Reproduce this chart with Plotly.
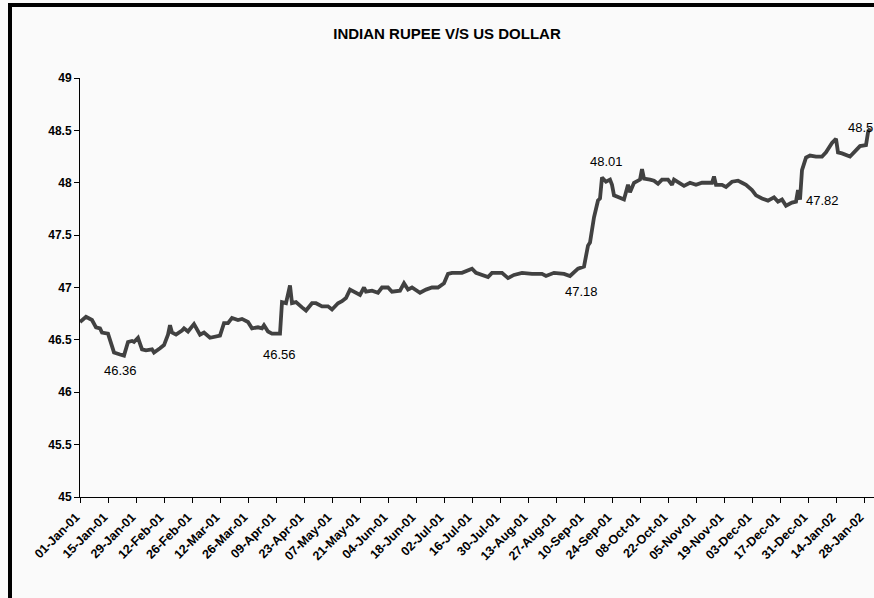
import plotly.graph_objects as go

dates = [
    "2001-01-01", "2001-01-04", "2001-01-07", "2001-01-09", "2001-01-11", "2001-01-12",
    "2001-01-15", "2001-01-17", "2001-01-18", "2001-01-21", "2001-01-23", "2001-01-25",
    "2001-01-27", "2001-01-28", "2001-01-30", "2001-02-01", "2001-02-03", "2001-02-06",
    "2001-02-07", "2001-02-10", "2001-02-12", "2001-02-14", "2001-02-15", "2001-02-16",
    "2001-02-18", "2001-02-21", "2001-02-22", "2001-02-24", "2001-02-27", "2001-03-02",
    "2001-03-04", "2001-03-07", "2001-03-09", "2001-03-12", "2001-03-14", "2001-03-16",
    "2001-03-18", "2001-03-21", "2001-03-23", "2001-03-26", "2001-03-28", "2001-03-31",
    "2001-04-02", "2001-04-03", "2001-04-05", "2001-04-07", "2001-04-11", "2001-04-12",
    "2001-04-14", "2001-04-16", "2001-04-17", "2001-04-19", "2001-04-22", "2001-04-24",
    "2001-04-27", "2001-04-29", "2001-05-02", "2001-05-05", "2001-05-07", "2001-05-10",
    "2001-05-12", "2001-05-14", "2001-05-16", "2001-05-18", "2001-05-21", "2001-05-23",
    "2001-05-24", "2001-05-27", "2001-05-30", "2001-06-01", "2001-06-04", "2001-06-06",
    "2001-06-10", "2001-06-12", "2001-06-14", "2001-06-16", "2001-06-20", "2001-06-23",
    "2001-06-26", "2001-06-29", "2001-07-02", "2001-07-04", "2001-07-06", "2001-07-11",
    "2001-07-14", "2001-07-16", "2001-07-18", "2001-07-21", "2001-07-24", "2001-07-26",
    "2001-07-31", "2001-08-03", "2001-08-06", "2001-08-10", "2001-08-15", "2001-08-20",
    "2001-08-22", "2001-08-26", "2001-08-31", "2001-09-03", "2001-09-05", "2001-09-07",
    "2001-09-10", "2001-09-12", "2001-09-13", "2001-09-15", "2001-09-17", "2001-09-18",
    "2001-09-19", "2001-09-21", "2001-09-23", "2001-09-24", "2001-09-25", "2001-09-28",
    "2001-09-30", "2001-10-02", "2001-10-03", "2001-10-05", "2001-10-08", "2001-10-09",
    "2001-10-10", "2001-10-13", "2001-10-15", "2001-10-17", "2001-10-19", "2001-10-22",
    "2001-10-24", "2001-10-25", "2001-10-28", "2001-10-30", "2001-11-02", "2001-11-05",
    "2001-11-08", "2001-11-11", "2001-11-13", "2001-11-14", "2001-11-15", "2001-11-18",
    "2001-11-20", "2001-11-23", "2001-11-26", "2001-11-28", "2001-11-30", "2001-12-03",
    "2001-12-05", "2001-12-08", "2001-12-11", "2001-12-14", "2001-12-16", "2001-12-18",
    "2001-12-20", "2001-12-23", "2001-12-25", "2001-12-26", "2001-12-27", "2001-12-28",
    "2001-12-30", "2002-01-01", "2002-01-04", "2002-01-07", "2002-01-09", "2002-01-12",
    "2002-01-14", "2002-01-15", "2002-01-17", "2002-01-21", "2002-01-23", "2002-01-26",
    "2002-01-29", "2002-01-30", "2002-01-31",
]

rates = [
    46.67, 46.72, 46.69, 46.62, 46.61, 46.57,
    46.56, 46.45, 46.38, 46.36, 46.35, 46.48,
    46.49, 46.48, 46.52, 46.41, 46.40, 46.41,
    46.38, 46.42, 46.45, 46.55, 46.64, 46.57,
    46.55, 46.59, 46.61, 46.58, 46.65, 46.55,
    46.57, 46.52, 46.53, 46.54, 46.66, 46.66,
    46.71, 46.69, 46.70, 46.67, 46.61, 46.62,
    46.61, 46.64, 46.58, 46.56, 46.56, 46.86,
    46.85, 47.02, 46.85, 46.86, 46.81, 46.78,
    46.85, 46.85, 46.82, 46.82, 46.79, 46.85,
    46.87, 46.90, 46.98, 46.96, 46.93, 47.00,
    46.96, 46.97, 46.95, 47.00, 47.00, 46.96,
    46.97, 47.04, 46.98, 47.00, 46.95, 46.98,
    47.00, 47.00, 47.04, 47.13, 47.14, 47.14,
    47.16, 47.18, 47.14, 47.12, 47.10, 47.14,
    47.14, 47.09, 47.12, 47.14, 47.13, 47.13,
    47.11, 47.14, 47.13, 47.11, 47.15, 47.18,
    47.20, 47.40, 47.43, 47.67, 47.83, 47.85,
    48.05, 48.01, 48.03, 47.98, 47.88, 47.85,
    47.84, 47.98, 47.91, 48.00, 48.03, 48.13,
    48.04, 48.03, 48.02, 47.99, 48.03, 48.03,
    47.98, 48.03, 48.00, 47.97, 48.00, 47.98,
    48.00, 48.00, 48.00, 48.06, 47.98, 47.98,
    47.96, 48.01, 48.02, 48.00, 47.98, 47.93,
    47.88, 47.85, 47.83, 47.86, 47.82, 47.84,
    47.78, 47.81, 47.82, 47.93, 47.84, 48.12,
    48.24, 48.26, 48.25, 48.25, 48.29, 48.38,
    48.42, 48.29, 48.28, 48.25, 48.29, 48.35,
    48.36, 48.48, 48.52,
]

label_dates = ["2001-01-21", "2001-04-11", "2001-09-07", "2001-09-21", "2001-12-25", "2002-01-31"]
label_values = [46.36, 46.56, 47.18, 48.01, 47.82, 48.52]
label_texts = ["46.36", "46.56", "47.18", "48.01", "47.82", "48.5"]

tick0 = "2001-01-01"
x_range = ["2001-01-01", "2002-02-02"]
y_range = [45, 49]

W, H = 874, 598
ML, MR, MT, MB = 80, 0, 78, 101
FONT = "Liberation Sans, Arial, sans-serif"

fig = go.Figure()
fig.add_trace(go.Scatter(
    x=dates, y=rates, mode="lines",
    line=dict(color="#414141", width=3.8),
    hoverinfo="x+y", showlegend=False,
))

# label offsets (pixels) relative to their data points
offsets = [
    dict(xshift=0, yshift=-16, xanchor="center"),
    dict(xshift=-1, yshift=-21, xanchor="center"),
    dict(xshift=3, yshift=-23, xanchor="center"),
    dict(xshift=0, yshift=20, xanchor="center"),
    dict(xshift=8, yshift=1, xanchor="left"),
    dict(xshift=5, yshift=1, xanchor="right"),
]
for d, v, t, o in zip(label_dates, label_values, label_texts, offsets):
    fig.add_annotation(
        x=d, y=v, text=t, showarrow=False,
        xanchor=o["xanchor"], yanchor="middle",
        xshift=o["xshift"], yshift=o["yshift"],
        font=dict(family=FONT, size=13, color="#000000"),
    )

pw = W - ML - MR
ph = H - MT - MB
def px_to_paper_x(px):
    return (px - ML) / pw
def py_to_paper_y(py):
    return (H - MB - py) / ph

# outer chart frame: left and top edges visible
fig.add_shape(
    type="line", xref="paper", yref="paper",
    x0=px_to_paper_x(10), x1=px_to_paper_x(10),
    y0=py_to_paper_y(H + 5), y1=py_to_paper_y(3),
    line=dict(color="#000000", width=4), layer="above",
)
fig.add_shape(
    type="line", xref="paper", yref="paper",
    x0=px_to_paper_x(8), x1=px_to_paper_x(W + 5),
    y0=py_to_paper_y(5), y1=py_to_paper_y(5),
    line=dict(color="#000000", width=4), layer="above",
)

fig.update_layout(
    width=W, height=H,
    margin=dict(l=ML, r=MR, t=MT, b=MB, pad=0),
    paper_bgcolor="#fafafa", plot_bgcolor="#fafafa",
    title=dict(
        text="<b>INDIAN RUPEE V/S US DOLLAR</b>",
        x=447 / W, xanchor="center", y=1 - 34 / H, yanchor="middle",
        font=dict(family=FONT, size=15, color="#000000"),
    ),
    font=dict(family=FONT, color="#000000"),
    showlegend=False,
)

fig.update_xaxes(
    type="date", range=x_range,
    tick0=tick0, dtick=14 * 86400000, tickformat="%d-%b-%y",
    tickangle=-45, ticks="outside", ticklen=5, tickwidth=1, tickcolor="#000000",
    ticklabelshift=-4, ticklabelstandoff=2,
    showline=True, linecolor="#000000", linewidth=1,
    showgrid=False, zeroline=False,
    tickfont=dict(family=FONT, size=12.5, color="#000000", weight="bold"),
)
fig.update_yaxes(
    range=y_range, dtick=0.5, tick0=45,
    ticks="outside", ticklen=5, tickwidth=1, tickcolor="#000000",
    showline=True, linecolor="#000000", linewidth=1,
    showgrid=False, zeroline=False,
    tickfont=dict(family=FONT, size=12, color="#000000", weight="bold"),
)

fig.write_html(
    "out.html",
    config={"displayModeBar": False},
    post_script="document.body.style.margin='0';document.body.style.overflow='hidden';",
)
